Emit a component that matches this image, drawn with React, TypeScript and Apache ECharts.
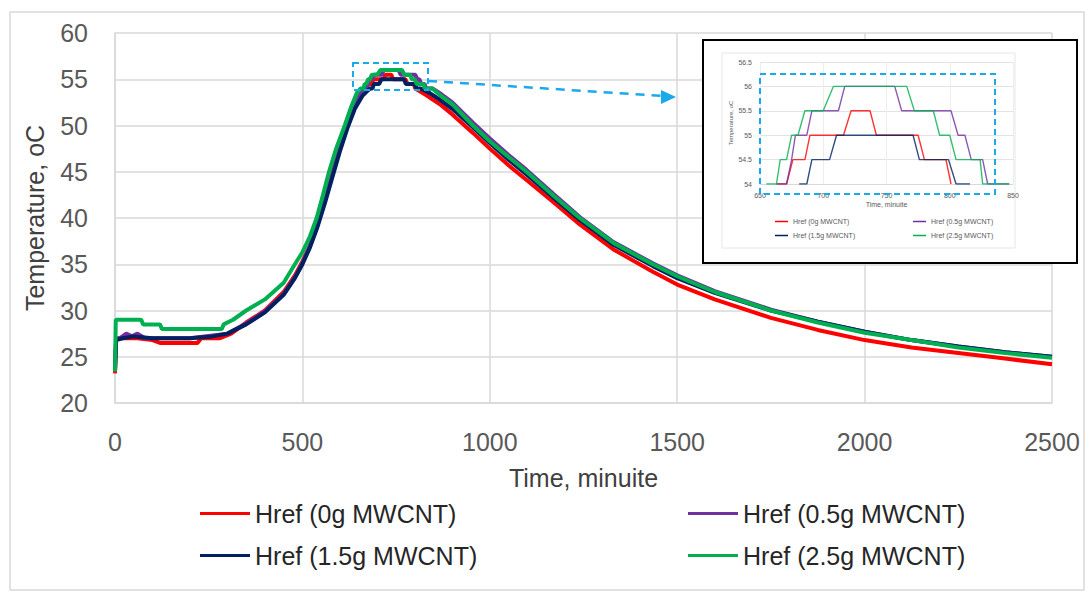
import React, { useEffect, useRef } from "react";
import * as echarts from "echarts";

// ---------- names / colours ----------
const seriesNames = [
  "Href (0g MWCNT)",
  "Href (0.5g MWCNT)",
  "Href (1.5g MWCNT)",
  "Href (2.5g MWCNT)",
];
const seriesColors = ["#FF0000", "#7030A0", "#002060", "#00B050"];

// ---------- axis ticks ----------
const mainX = { min: 0, max: 2500, interval: 500 };
const mainY = { min: 20, max: 60, interval: 5 };
const insetX = { min: 650, max: 850, interval: 50 };
const insetY = { min: 54, max: 56.5, interval: 0.5 };

// ---------- data [time (min), temperature (oC)] ----------
// 0 g MWCNT (red)
const redRise = [
  [0, 23.2], [3, 27], [60, 27], [100, 26.8], [120, 26.5], [220, 26.5], [230, 27],
  [280, 27], [310, 27.5], [350, 28.7], [400, 30], [450, 32], [480, 33.8], [500, 35.3],
  [520, 37], [540, 39.3], [560, 42], [580, 44.8], [600, 47.6], [620, 50.2], [640, 52.6],
  [655, 53.7],
];
const redPeak = [
  [663, 54], [671, 54], [676, 54.5], [685.5, 54.5], [689.5, 55], [716, 55], [722, 55.5],
  [737, 55.5], [742, 55], [775, 55], [780, 54.5], [797, 54.5], [801, 54],
];
const redFall = [
  [830, 53.3], [870, 52.2], [900, 51.2], [955, 49.2], [1000, 47.5], [1050, 45.7],
  [1098, 44.1], [1170, 41.7], [1240, 39.3], [1330, 36.6], [1435, 34.2], [1500, 32.8],
  [1600, 31.2], [1750, 29.2], [1875, 27.9], [2000, 26.8], [2125, 26.0], [2250, 25.4],
  [2375, 24.8], [2500, 24.2],
];

// 0.5 g MWCNT (purple)
const purpleRise = [
  [0, 23.5], [3, 26.8], [20, 27.2], [30, 27.5], [45, 27.2], [60, 27.5], [80, 27],
  [200, 27], [300, 27.5], [350, 28.6], [400, 29.9], [450, 31.8], [480, 33.6], [500, 35.1],
  [520, 37], [540, 39.2], [560, 41.9], [580, 44.7], [600, 47.5], [620, 50], [640, 52.3],
  [655, 53.5],
];
const purplePeak = [
  [663, 54], [671, 54], [675, 54.5], [678, 55], [687, 55], [691, 55.5], [712, 55.5],
  [717, 56], [756.5, 56], [762, 55.5], [801, 55.5], [806.6, 55], [812, 55], [817, 54.5],
  [826, 54.5], [830, 54], [847, 54],
];
const purpleFall = [
  [870, 53.4], [900, 52.5], [955, 50.3], [1000, 48.6], [1050, 46.8], [1098, 45.2],
  [1170, 42.6], [1240, 40.1], [1330, 37.4], [1435, 35.1], [1500, 33.8], [1600, 32.1],
  [1750, 30.1], [1875, 28.8], [2000, 27.7], [2125, 26.8], [2250, 26.1], [2375, 25.5],
  [2500, 25.0],
];

// 1.5 g MWCNT (navy)
const navyRise = [
  [0, 23.6], [3, 26.8], [20, 27], [50, 27.2], [100, 27], [200, 27], [260, 27.2],
  [300, 27.5], [350, 28.5], [400, 29.8], [450, 31.7], [480, 33.5], [500, 35], [520, 36.8],
  [540, 39], [560, 41.6], [580, 44.4], [600, 47.2], [620, 49.7], [640, 51.8], [660, 53.2],
  [675, 53.8],
];
const navyPeak = [
  [681, 54], [687, 54], [691, 54.5], [705, 54.5], [710.5, 55], [771, 55], [776, 54.5],
  [799, 54.5], [805, 54], [816, 54],
];
const navyFall = [
  [840, 53.5], [870, 52.7], [900, 51.8], [955, 49.8], [1000, 48.1], [1050, 46.3],
  [1098, 44.7], [1170, 42.2], [1240, 39.8], [1330, 37.1], [1435, 34.8], [1500, 33.5],
  [1600, 31.9], [1750, 30.0], [1875, 28.8], [2000, 27.7], [2125, 26.8], [2250, 26.1],
  [2375, 25.5], [2500, 25.0],
];

// 2.5 g MWCNT (green)
const greenRise = [
  [0, 23.4], [2, 29], [70, 29], [75, 28.5], [120, 28.5], [125, 28], [285, 28],
  [290, 28.5], [315, 29], [350, 30], [400, 31.2], [450, 33], [480, 35], [500, 36.3],
  [520, 38], [538, 40], [555, 42.5], [571, 45], [590, 47.5], [613, 50], [630, 52],
  [645, 53.5],
];
const greenPeak = [
  [655, 54], [663, 54], [666, 54.5], [671, 54.5], [675, 55], [680, 55], [685.5, 55.5],
  [700, 55.5], [708, 56], [766, 56], [772, 55.5], [787, 55.5], [792, 55], [800, 55],
  [805, 54.5], [824, 54.5], [826, 54], [847, 54],
];
const greenFall = [
  [870, 53.2], [900, 52.3], [955, 50], [1000, 48.3], [1050, 46.6], [1098, 45],
  [1170, 42.4], [1240, 40], [1330, 37.3], [1435, 35], [1500, 33.7], [1600, 32.0],
  [1750, 30.0], [1875, 28.7], [2000, 27.6], [2125, 26.8], [2250, 26.0], [2375, 25.4],
  [2500, 24.9],
];

const riseData = [redRise, purpleRise, navyRise, greenRise];
const peakData = [redPeak, purplePeak, navyPeak, greenPeak];
const fallData = [redFall, purpleFall, navyFall, greenFall];

const FONT = "'Liberation Sans', Arial, sans-serif";
const TXT = "#595959";
const GRID = "#D9D9D9";
const DASH = "#1AA9EA";

const plain = (v: number) => String(v);

export default function App() {
  const ref = useRef<HTMLDivElement>(null);

  useEffect(() => {
    if (!ref.current) return;
    const chart = echarts.init(ref.current, undefined, { renderer: "svg" });

    const mainSeries = seriesNames.map((name, i) => ({
      name,
      type: "line",
      xAxisIndex: 0,
      yAxisIndex: 0,
      data: [...riseData[i], ...peakData[i], ...fallData[i]],
      showSymbol: false,
      symbol: "none",
      color: seriesColors[i],
      lineStyle: { width: 4, color: seriesColors[i] },
      z: 2 + i,
    }));

    const insetSeries = seriesNames.map((name, i) => ({
      name,
      type: "line",
      xAxisIndex: 1,
      yAxisIndex: 1,
      data: peakData[i],
      showSymbol: false,
      symbol: "none",
      color: seriesColors[i],
      lineStyle: { width: 1.4, color: seriesColors[i], opacity: 0.8 },
      z: 20 + i,
    }));

    const mainLegendPos = [
      { left: 200, top: 501 },
      { left: 688, top: 501 },
      { left: 200, top: 543 },
      { left: 688, top: 543 },
    ];
    const insetLegendPos = [
      { left: 775, top: 218 },
      { left: 913, top: 218 },
      { left: 775, top: 232 },
      { left: 913, top: 232 },
    ];

    const legends: any[] = [];
    seriesNames.forEach((name, i) => {
      legends.push({
        data: [name],
        left: mainLegendPos[i].left,
        top: mainLegendPos[i].top,
        padding: 0,
        icon: "rect",
        itemWidth: 50,
        itemHeight: 3,
        itemStyle: { color: seriesColors[i] },
        textStyle: { fontFamily: FONT, fontSize: 25, color: "#262626" },
        selectedMode: false,
      });
    });
    seriesNames.forEach((name, i) => {
      legends.push({
        data: [name],
        left: insetLegendPos[i].left,
        top: insetLegendPos[i].top,
        padding: 0,
        icon: "rect",
        itemWidth: 13,
        itemHeight: 1.5,
        itemGap: 2,
        itemStyle: { color: seriesColors[i] },
        textStyle: { fontFamily: FONT, fontSize: 7, color: TXT },
        selectedMode: false,
        z: 30,
      });
    });

    const option: any = {
      animation: false,
      backgroundColor: "#FFFFFF",
      grid: [
        { left: 115, top: 33, width: 937, height: 370 },
        { left: 760, top: 62, width: 253, height: 122, z: 20 },
      ],
      xAxis: [
        {
          type: "value",
          gridIndex: 0,
          ...mainX,
          name: "Time, minuite",
          nameLocation: "middle",
          nameGap: 62,
          nameTextStyle: { fontFamily: FONT, fontSize: 25, color: "#404040" },
          axisLine: { show: true, lineStyle: { color: GRID, width: 1.5 } },
          axisTick: { show: false },
          axisLabel: { fontFamily: FONT, fontSize: 25, color: TXT, margin: 26, formatter: plain },
          splitLine: { show: true, lineStyle: { color: GRID, width: 1.5 } },
        },
        {
          type: "value",
          gridIndex: 1,
          ...insetX,
          name: "Time, minuite",
          nameLocation: "middle",
          nameGap: 17,
          nameTextStyle: { fontFamily: FONT, fontSize: 7, color: TXT },
          axisLine: { show: true, lineStyle: { color: GRID, width: 1 } },
          axisTick: { show: false },
          axisLabel: { fontFamily: FONT, fontSize: 7, color: TXT, margin: 8, formatter: plain },
          splitLine: { show: true, lineStyle: { color: "#EDEDED", width: 1 } },
          z: 20,
        },
      ],
      yAxis: [
        {
          type: "value",
          gridIndex: 0,
          ...mainY,
          name: "Temperature, oC",
          nameLocation: "middle",
          nameGap: 68,
          nameTextStyle: { fontFamily: FONT, fontSize: 25, color: "#404040" },
          axisLine: { show: true, lineStyle: { color: GRID, width: 1.5 } },
          axisTick: { show: false },
          axisLabel: { fontFamily: FONT, fontSize: 25, color: TXT, margin: 27 },
          splitLine: { show: true, lineStyle: { color: GRID, width: 1.5 } },
        },
        {
          type: "value",
          gridIndex: 1,
          ...insetY,
          name: "Temperature, oC",
          nameLocation: "middle",
          nameGap: 24,
          nameTextStyle: { fontFamily: FONT, fontSize: 6, color: TXT },
          axisLine: { show: false },
          axisTick: { show: false },
          axisLabel: { fontFamily: FONT, fontSize: 7, color: TXT, margin: 8 },
          splitLine: { show: true, lineStyle: { color: "#E3E3E3", width: 1 } },
          z: 20,
        },
      ],
      legend: legends,
      series: [...mainSeries, ...insetSeries],
      graphic: [
        // outer chart frame
        {
          type: "rect",
          shape: { x: 10, y: 12, width: 1074, height: 578 },
          style: { fill: "none", stroke: GRID, lineWidth: 1.5 },
          z: 1,
          silent: true,
        },
        // inset box
        {
          type: "rect",
          shape: { x: 703, y: 40, width: 374, height: 223 },
          style: { fill: "#FFFFFF", stroke: "#000000", lineWidth: 2 },
          z: 8,
          silent: true,
        },
        {
          type: "rect",
          shape: { x: 722, y: 53, width: 293, height: 195 },
          style: { fill: "none", stroke: "#E6E6E6", lineWidth: 1 },
          z: 9,
          silent: true,
        },
        // zoom marker on main chart
        {
          type: "rect",
          shape: { x: 353, y: 63, width: 75, height: 27 },
          style: { fill: "none", stroke: DASH, lineWidth: 2, lineDash: [6, 4] },
          z: 10,
          silent: true,
        },
        {
          type: "line",
          shape: { x1: 428, y1: 81, x2: 664, y2: 96 },
          style: { stroke: DASH, lineWidth: 2.5, lineDash: [9, 7] },
          z: 10,
          silent: true,
        },
        {
          type: "polygon",
          shape: { points: [[676, 97], [661, 90], [661, 104]] },
          style: { fill: DASH },
          z: 10,
          silent: true,
        },
        // zoom marker inside inset
        {
          type: "rect",
          shape: { x: 760, y: 74, width: 235, height: 120 },
          style: { fill: "none", stroke: DASH, lineWidth: 2, lineDash: [6, 4] },
          z: 40,
          silent: true,
        },
      ],
    };

    chart.setOption(option);
    return () => chart.dispose();
  }, []);

  return (
    <div
      ref={ref}
      style={{ position: "fixed", left: 0, top: 0, width: 1091, height: 593, background: "#fff" }}
    />
  );
}
